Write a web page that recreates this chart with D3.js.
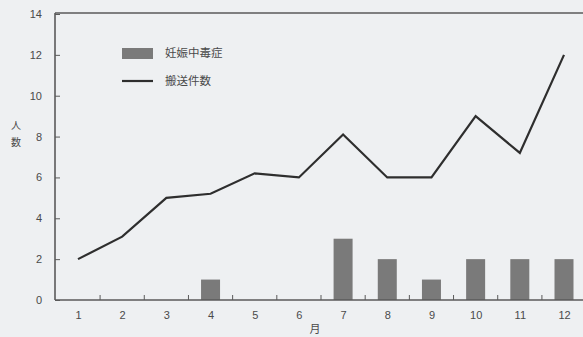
<!DOCTYPE html>
<html>
<head>
<meta charset="utf-8">
<script src="https://cdn.jsdelivr.net/npm/d3@7"></script>
<style>
  html, body { margin: 0; padding: 0; background: #eef0f2; }
  svg { display: block; }
  text { font-family: "Liberation Sans", Arial, sans-serif; fill: #4a4a4a; }
  .jp { font-family: "Noto Sans CJK JP", sans-serif; }
</style>
</head>
<body>
<svg id="chart" width="583" height="337"></svg>
<script>
// Monthly counts
const months = [1, 2, 3, 4, 5, 6, 7, 8, 9, 10, 11, 12];
const toxemia = [0, 0, 0, 1, 0, 0, 3, 2, 1, 2, 2, 2];          // 妊娠中毒症
const transports = [2, 3.1, 5, 5.2, 6.2, 6, 8.1, 6, 6, 9, 7.2, 12]; // 搬送件数
const yTicks = [0, 2, 4, 6, 8, 10, 12, 14];

const svg = d3.select("#chart");
const plotLeft = 55, plotRight = 583, plotTop = 14, plotBottom = 300;

const x = d3.scalePoint().domain(months).range([78, 564]);
const step = x.step();
const y = d3.scaleLinear().domain([0, 14]).range([plotBottom, plotTop]);

const axisColor = "#5a5a5a";

// bars
const barW = 19;
svg.append("g").selectAll("rect")
  .data(months.map((m, i) => ({ m, v: toxemia[i] })).filter(d => d.v > 0))
  .join("rect")
  .attr("x", d => x(d.m) - barW / 2)
  .attr("y", d => y(d.v))
  .attr("width", barW)
  .attr("height", d => y(0) - y(d.v))
  .attr("fill", "#7a7a7a");

// line
const line = d3.line().x((d, i) => x(months[i])).y(d => y(d));
svg.append("path")
  .datum(transports)
  .attr("d", line)
  .attr("fill", "none")
  .attr("stroke", "#2e2e2e")
  .attr("stroke-width", 2.2)
  .attr("stroke-linejoin", "miter");

// frame: left axis, top line, bottom axis
svg.append("line").attr("x1", plotLeft).attr("x2", plotLeft).attr("y1", plotTop - 1).attr("y2", plotBottom)
  .attr("stroke", axisColor).attr("stroke-width", 1.6);
svg.append("line").attr("x1", plotLeft).attr("x2", plotRight).attr("y1", plotTop - 1).attr("y2", plotTop - 1)
  .attr("stroke", axisColor).attr("stroke-width", 1.4);
svg.append("line").attr("x1", plotLeft).attr("x2", plotRight).attr("y1", plotBottom).attr("y2", plotBottom)
  .attr("stroke", axisColor).attr("stroke-width", 1.6);

// y axis ticks and labels
const yAxis = d3.axisRight(y).tickValues(yTicks).tickSize(5).tickFormat("");
const gy = svg.append("g").attr("transform", `translate(${plotLeft},0)`).call(yAxis);
gy.select(".domain").remove();
gy.selectAll(".tick line").attr("stroke", axisColor);
svg.append("g").selectAll("text")
  .data(yTicks)
  .join("text")
  .attr("x", 42)
  .attr("y", d => y(d) + 4)
  .attr("text-anchor", "end")
  .attr("font-size", 11)
  .text(d => d);

// x axis: ticks sit between months, labels below each month
const between = months.slice(0, -1).map(m => x(m) + step / 2);
svg.append("g").selectAll("line")
  .data(between)
  .join("line")
  .attr("x1", d => d).attr("x2", d => d)
  .attr("y1", plotBottom).attr("y2", plotBottom - 5)
  .attr("stroke", axisColor);
const xAxis = d3.axisBottom(x).tickSize(0).tickPadding(11);
const gx = svg.append("g").attr("transform", `translate(0,${plotBottom})`).call(xAxis);
gx.select(".domain").remove();
gx.selectAll("text").attr("font-size", 11).attr("fill", "#4a4a4a")
  .attr("font-family", "Liberation Sans, Arial, sans-serif");

// axis titles
const yTitle = svg.append("text").attr("class", "jp").attr("font-size", 10).attr("text-anchor", "middle");
yTitle.append("tspan").attr("x", 16).attr("y", 129).text("人");
yTitle.append("tspan").attr("x", 16).attr("y", 146).text("数");
svg.append("text").attr("class", "jp").attr("x", 315).attr("y", 333)
  .attr("font-size", 11).attr("text-anchor", "middle").text("月");

// legend
const lg = svg.append("g");
lg.append("rect").attr("x", 122).attr("y", 48).attr("width", 31).attr("height", 11).attr("fill", "#7a7a7a");
lg.append("text").attr("class", "jp").attr("x", 165).attr("y", 57).attr("font-size", 11.5).text("妊娠中毒症");
lg.append("line").attr("x1", 122).attr("x2", 153).attr("y1", 81).attr("y2", 81)
  .attr("stroke", "#2e2e2e").attr("stroke-width", 2.2);
lg.append("text").attr("class", "jp").attr("x", 165).attr("y", 85).attr("font-size", 11.5).text("搬送件数");
</script>
</body>
</html>
